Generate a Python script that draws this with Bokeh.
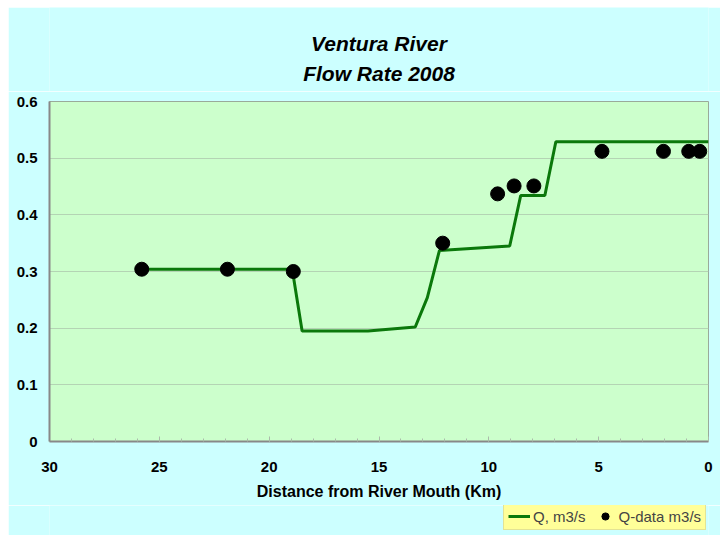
from bokeh.plotting import figure
from bokeh.models import Range1d, FixedTicker, Label, Legend, LegendItem
from bokeh.layouts import column
from bokeh.embed import file_html
from bokeh.resources import INLINE

# Modelled flow rate Q (m3/s) along the river
q_dist = [25.8, 18.95, 18.5, 15.5, 13.35, 12.8, 12.25, 9.05, 8.55, 7.45, 6.95, 0.0]
q_flow = [0.304, 0.304, 0.195, 0.195, 0.202, 0.254, 0.337, 0.345, 0.434, 0.434, 0.529, 0.529]

# Measured Q-data (m3/s)
d_dist = [25.8, 21.9, 18.9, 12.1, 9.6, 8.85, 7.95, 4.85, 2.05, 0.9, 0.4]
d_flow = [0.304, 0.304, 0.300, 0.350, 0.437, 0.451, 0.451, 0.512, 0.512, 0.512, 0.512]

x_ticks = [0, 5, 10, 15, 20, 25, 30]
x_minor = list(range(0, 31))
y_ticks = [0, 0.1, 0.2, 0.3, 0.4, 0.5, 0.6]
y_labels = ["0", "0.1", "0.2", "0.3", "0.4", "0.5", "0.6"]
title_lines = ["Ventura River", "Flow Rate 2008"]

FONT = "Liberation Sans"
CYAN = "#CCFFFF"
LINE_COLOR = "#0b780b"

# ---- header strip holding the two-line title ----
HDR_H = 84
hdr = figure(width=712, height=HDR_H, output_backend="svg", toolbar_location=None,
             x_range=Range1d(0, 1), y_range=Range1d(HDR_H, 0), title=None,
             x_axis_type=None, y_axis_type=None,
             min_border_left=41, min_border_right=12, min_border_top=0,
             min_border_bottom=0, margin=(7, 0, 0, 8))
hdr.border_fill_color = CYAN
hdr.background_fill_color = CYAN
hdr.outline_line_color = None
hdr.grid.grid_line_color = None
for txt, ypos in zip(title_lines, [36, 66]):
    hdr.add_layout(Label(x=0.5, y=ypos, text=txt, text_align="center",
                         text_baseline="middle", text_font=FONT,
                         text_font_size="21px", text_font_style="bold italic",
                         text_color="black"))

# ---- main chart ----
p = figure(width=712, height=414, output_backend="svg", toolbar_location=None,
           x_range=Range1d(30, 0), y_range=Range1d(0, 0.6), title=None,
           min_border_left=41, min_border_right=12, min_border_top=10,
           min_border_bottom=64, margin=(0, 0, 0, 8))

p.border_fill_color = CYAN
p.background_fill_color = "#CCFFCC"
p.outline_line_color = "#9aaa9a"
p.outline_line_width = 1

p.line(q_dist, q_flow, line_color=LINE_COLOR, line_width=3)
p.scatter(d_dist, d_flow, size=14, fill_color="black", line_color="black")

p.xaxis.ticker = FixedTicker(ticks=x_ticks, minor_ticks=x_minor)
p.yaxis.ticker = FixedTicker(ticks=y_ticks)
p.yaxis.major_label_overrides = {t: l for t, l in zip(y_ticks, y_labels)}

for ax in (p.xaxis[0], p.yaxis[0]):
    ax.axis_line_color = "#888888"
    ax.axis_line_width = 2
    ax.major_label_text_font = FONT
    ax.major_label_text_font_style = "bold"
    ax.major_label_text_font_size = "15px"
    ax.major_label_text_color = "black"

p.xaxis.major_tick_in = 5
p.xaxis.major_tick_out = 0
p.xaxis.minor_tick_in = 3
p.xaxis.minor_tick_out = 0
p.xaxis.major_tick_line_color = "#aabbaa"
p.xaxis.minor_tick_line_color = "#aabbaa"
p.xaxis.major_label_standoff = 20
p.xaxis.axis_label = "Distance from River Mouth (Km)"
p.xaxis.axis_label_text_font = FONT
p.xaxis.axis_label_text_font_style = "bold"
p.xaxis.axis_label_text_font_size = "16px"
p.xaxis.axis_label_text_color = "black"
p.xaxis.axis_label_standoff = 8

p.yaxis.major_tick_line_color = None
p.yaxis.minor_tick_line_color = None
p.yaxis.major_label_standoff = 6

p.xgrid.grid_line_color = None
p.ygrid.grid_line_color = "#b4d4b4"
p.ygrid.grid_line_width = 1

# ---- legend strip below the chart; its ranges keep the series copies out of view ----
lg = figure(width=712, height=30, output_backend="svg", toolbar_location=None,
            x_range=Range1d(-100, -99), y_range=Range1d(-100, -99), title=None,
            x_axis_type=None, y_axis_type=None,
            min_border_left=41, min_border_right=12, min_border_top=0,
            min_border_bottom=0, margin=(0, 0, 0, 8))
lg.border_fill_color = CYAN
lg.background_fill_color = CYAN
lg.outline_line_color = None
lg.grid.grid_line_color = None
lr = lg.line(q_dist, q_flow, line_color=LINE_COLOR, line_width=3)
dr = lg.scatter(d_dist, d_flow, size=14, fill_color="black", line_color="black")

legend = Legend(items=[LegendItem(label="Q, m3/s", renderers=[lr]),
                       LegendItem(label="Q-data m3/s", renderers=[dr])],
                orientation="horizontal", location=(454, 5),
                glyph_width=22, glyph_height=18, label_height=18,
                label_standoff=3, spacing=8, padding=4, margin=0,
                label_text_font=FONT, label_text_font_size="15px",
                background_fill_color="#FFFF99", background_fill_alpha=1,
                border_line_color="#c8c890", border_line_width=1)
lg.add_layout(legend, "center")

layout = column(hdr, p, lg, spacing=0)
open("out.html", "w").write(file_html(layout, INLINE))
